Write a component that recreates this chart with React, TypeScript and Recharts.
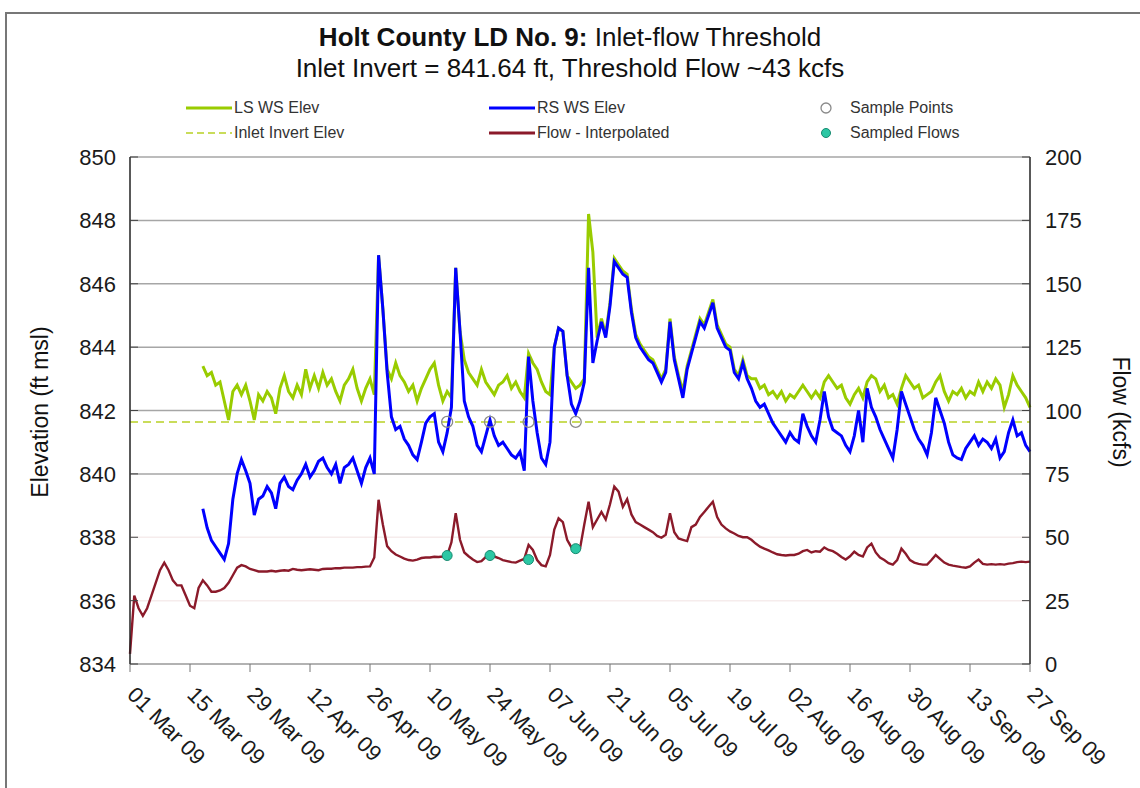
import { ComposedChart, Line, Scatter, XAxis, YAxis, ReferenceLine } from 'recharts';

const FONT = "'Liberation Sans', Arial, sans-serif";

// days counted from 01 Mar 2009
const TICK_DAYS = [0, 14, 28, 42, 56, 70, 84, 98, 112, 126, 140, 154, 168, 182, 196, 210];
const TICK_LABELS = [
  '01 Mar 09', '15 Mar 09', '29 Mar 09', '12 Apr 09', '26 Apr 09', '10 May 09', '24 May 09', '07 Jun 09',
  '21 Jun 09', '05 Jul 09', '19 Jul 09', '02 Aug 09', '16 Aug 09', '30 Aug 09', '13 Sep 09', '27 Sep 09',
];
const ELEV_TICKS = [834, 836, 838, 840, 842, 844, 846, 848, 850];
const FLOW_TICKS = [0, 25, 50, 75, 100, 125, 150, 175, 200];
const INVERT_ELEV = 841.64;

// daily flow, kcfs (day 0..210)
const FLOW = [
  4, 27, 22, 19, 22, 27, 32, 37, 40, 37,
  33, 31, 31, 27, 23, 22, 30, 33, 31, 28.5,
  28.5, 29, 30, 32, 35, 38, 39, 38.5, 37.5, 37,
  36.5, 36.5, 36.5, 36.8, 36.5, 36.8, 37, 36.8, 37.5, 37.2,
  37, 37.2, 37.4, 37.2, 37, 37.5, 37.6, 37.6, 37.8, 37.8,
  38, 38, 38, 38.2, 38.2, 38.4, 38.5, 42, 64.8, 55,
  46.5, 44.5, 43.2, 42.4, 41.6, 41, 40.8, 41.2, 41.8, 42,
  42, 42.3, 42.2, 42.4, 42.8, 48, 59.5, 49, 44, 42.5,
  41.2, 40.2, 40.6, 42.2, 42.8, 42.4, 41.8, 41, 40.6, 40.2,
  40, 40.8, 41.5, 47, 45, 41, 39, 38.5, 43, 53,
  57.5, 56, 49, 46, 45.5, 45.5, 55, 64, 54, 57,
  60, 57, 63, 70, 68, 62, 65, 59, 56, 55,
  54, 53, 52, 50.5, 49.8, 51, 59.5, 52, 49.5, 49,
  48.5, 54, 55, 58, 60, 62, 64, 58, 55, 53.5,
  52.3, 51.5, 50.5, 50, 50, 49, 47.5, 46.3, 45.5, 44.8,
  44, 43.3, 43, 42.8, 43, 43, 43.5, 44.5, 45, 44,
  44.5, 44.3, 46, 45, 44.5, 43.5, 42.2, 41.2, 42.5, 44.3,
  43, 42.4, 46, 47.5, 44, 42, 41, 39.8, 39.2, 41,
  45.5, 43.5, 41, 40, 39.5, 39.2, 39.2, 41, 43, 41.5,
  40, 39.2, 38.8, 38.5, 38.2, 38, 38.5, 40, 41.2, 39.5,
  39.2, 39.4, 39.2, 39.4, 39.2, 39.6, 39.8, 40.2, 40.4, 40.2, 40.4,
];

// water surface elevations, ft msl, from day 17 to day 210
const STAGE_START = 17;
const RS_ELEV = [
  838.9, 838.3, 837.9,
  837.7, 837.5, 837.3, 837.8, 839.2, 840.0, 840.45, 840.1, 839.7, 838.7,
  839.2, 839.3, 839.6, 839.4, 838.9, 839.7, 839.9, 839.6, 839.5, 839.8,
  840.0, 840.3, 839.9, 840.1, 840.4, 840.5, 840.2, 840.0, 840.3, 839.7,
  840.2, 840.3, 840.5, 840.1, 839.7, 840.2, 840.5, 840.0, 846.9, 845.2,
  843.2, 841.8, 841.4, 841.5, 841.1, 840.9, 840.6, 840.45, 841.0, 841.6,
  841.8, 841.9, 841.0, 840.7, 841.3, 842.1, 846.5, 844.5, 842.3, 841.8,
  841.5, 840.9, 840.7, 841.2, 841.7, 841.2, 840.9, 841.0, 840.8, 840.6,
  840.5, 840.7, 840.1, 843.7, 842.3, 841.3, 840.5, 840.3, 841.0, 844.0,
  844.6, 844.5, 843.1, 842.2, 841.9, 842.3, 842.9, 846.5, 843.5, 844.2,
  844.8, 844.3, 845.3, 846.7, 846.5, 846.3, 846.2, 845.1, 844.3, 844.0,
  843.8, 843.6, 843.5, 843.2, 842.9, 843.2, 844.8, 843.6, 843.0, 842.4,
  843.3, 843.8, 844.3, 844.8, 844.6, 845.0, 845.4, 844.6, 844.3, 844.0,
  843.9, 843.2, 843.0, 843.5, 843.0, 842.7, 842.3, 842.1, 842.2, 841.9,
  841.6, 841.4, 841.2, 841.0, 841.3, 841.1, 841.0, 841.9, 841.5, 841.2,
  841.0, 841.7, 842.6, 841.8, 841.4, 841.3, 841.2, 840.9, 840.7, 841.2,
  842.0, 841.0, 842.7, 842.1, 841.8, 841.4, 841.1, 840.8, 840.5, 841.4,
  842.6, 842.2, 841.8, 841.4, 841.1, 840.9, 840.6, 841.3, 842.4, 842.0,
  841.6, 841.0, 840.6, 840.5, 840.45, 840.8, 841.0, 841.2, 840.9, 841.1,
  841.0, 840.8, 841.1, 840.5, 840.7, 841.3, 841.7, 841.2, 841.3, 840.9, 840.7,
];
const LS_ELEV = [
  843.4, 843.1, 843.2,
  842.8, 842.9, 842.3, 841.7, 842.6, 842.8, 842.5, 842.8, 842.3, 841.7,
  842.5, 842.3, 842.6, 842.4, 841.9, 842.7, 843.1, 842.6, 842.4, 842.8,
  842.5, 843.3, 842.7, 843.1, 842.7, 843.2, 842.8, 843.0, 842.6, 842.3,
  842.8, 843.0, 843.3, 842.7, 842.3, 842.7, 843.0, 842.5, 846.9, 845.2,
  843.3, 843.0, 843.5, 843.1, 842.9, 842.6, 842.8, 842.3, 842.7, 843.0,
  843.3, 843.5, 842.8, 842.3, 842.6, 842.4, 846.5, 844.5, 843.6, 843.2,
  843.0, 842.8, 843.3, 842.9, 842.7, 842.5, 842.8, 842.9, 843.1, 842.7,
  842.9, 842.6, 842.4, 843.8, 843.5, 843.3, 842.9, 842.6, 842.5, 844.0,
  844.6, 844.5, 843.1, 842.9, 842.7, 842.8, 843.0, 848.2, 847.0, 844.3,
  844.9, 844.4, 845.4, 846.8, 846.6, 846.4, 846.3, 845.2, 844.4, 844.1,
  843.9, 843.7, 843.6, 843.3, 843.0, 843.3, 844.9, 843.7, 843.1, 842.6,
  843.4, 843.9, 844.4, 844.9, 844.7, 845.1, 845.5, 844.7, 844.4, 844.1,
  844.0, 843.3, 843.1, 843.6, 843.1, 843.0, 843.0, 842.7, 842.8, 842.5,
  842.6, 842.4, 842.6, 842.3, 842.5, 842.4, 842.6, 842.8, 842.6, 842.4,
  842.6, 842.4, 842.9, 843.1, 842.9, 842.7, 842.8, 842.4, 842.2, 842.5,
  842.7, 842.4, 842.9, 843.1, 843.0, 842.6, 842.8, 842.4, 842.5, 842.2,
  842.7, 843.1, 842.9, 842.7, 842.8, 842.4, 842.5, 842.6, 842.9, 843.1,
  842.6, 842.3, 842.6, 842.5, 842.7, 842.4, 842.6, 842.5, 842.9, 842.6,
  842.9, 842.7, 843.0, 842.8, 842.1, 842.5, 843.1, 842.8, 842.6, 842.4, 842.1,
];

const SAMPLE_DAYS = [74, 84, 93, 104];
const SAMPLED_FLOWS = [42.8, 42.8, 41.2, 45.5];

const data = FLOW.map((flow, day) => ({
  day,
  flow,
  rs: day >= STAGE_START ? RS_ELEV[day - STAGE_START] : null,
  ls: day >= STAGE_START ? LS_ELEV[day - STAGE_START] : null,
  invert: INVERT_ELEV,
}));
const samplePoints = SAMPLE_DAYS.map((day) => ({ day, elev: INVERT_ELEV }));
const sampledFlows = SAMPLE_DAYS.map((day, i) => ({ day, flow: SAMPLED_FLOWS[i] }));

const LS_COLOR = '#99cc00';
const RS_COLOR = '#0000ff';
const FLOW_COLOR = '#8b1a2a';
const INVERT_COLOR = '#c9dc5a';
const TEAL = '#2cc7a4';

const LeftTick = ({ x, y, payload }: any) => (
  <g>
    <line x1={x + 14} x2={x + 22} y1={y} y2={y} stroke="#444" />
    <text x={x} y={y} dy={8} textAnchor="end" fontSize={22} fontFamily={FONT} fill="#1a1a1a">
      {payload.value}
    </text>
  </g>
);

const RightTick = ({ x, y, payload }: any) => (
  <g>
    <line x1={x - 15} x2={x - 23} y1={y} y2={y} stroke="#444" />
    <text x={x} y={y} dy={8} textAnchor="start" fontSize={22} fontFamily={FONT} fill="#1a1a1a">
      {payload.value}
    </text>
  </g>
);

const DateTick = ({ x, y, payload }: any) => {
  const i = TICK_DAYS.indexOf(payload.value);
  const ax = x - 4;
  const ay = y + 24;
  return (
    <text x={ax} y={ay} transform={`rotate(45 ${ax} ${ay})`} textAnchor="start" fontSize={22} fontFamily={FONT} fill="#1a1a1a">
      {TICK_LABELS[i]}
    </text>
  );
};

const OpenCircle = ({ cx, cy }: any) => <circle cx={cx} cy={cy} r={5.5} fill="none" stroke="#8a8a8a" strokeWidth={1.3} />;
const TealDot = ({ cx, cy }: any) => <circle cx={cx} cy={cy} r={5} fill={TEAL} stroke="#168a70" strokeWidth={1} />;

const legendText = { fontSize: 16, fontFamily: FONT, color: '#333', whiteSpace: 'nowrap' as const };

function LegendRow({ left, top, swatch, label }: { left: number; top: number; swatch: any; label: string }) {
  return (
    <div style={{ position: 'absolute', left, top, display: 'flex', alignItems: 'center', height: 20 }}>
      <svg width={50} height={20} style={{ display: 'block' }}>{swatch}</svg>
      <span style={legendText}>{label}</span>
    </div>
  );
}

export default function App() {
  return (
    <div style={{ position: 'absolute', left: 0, top: 0, width: 1140, height: 788, background: '#fff', overflow: 'hidden' }}>
      <div style={{ position: 'absolute', left: 5, top: 12, width: 1200, height: 900, border: '2px solid #777' }} />
      <div style={{ position: 'absolute', left: 0, top: 22, width: 1140, textAlign: 'center', fontFamily: FONT, fontSize: 26, color: '#111', lineHeight: '31px' }}>
        <div><b>Holt County LD No. 9:</b> Inlet-flow Threshold</div>
        <div>Inlet Invert = 841.64 ft, Threshold Flow ~43 kcfs</div>
      </div>

      <LegendRow left={184} top={98} label="LS WS Elev" swatch={<line x1={2} x2={48} y1={10} y2={10} stroke={LS_COLOR} strokeWidth={3} />} />
      <LegendRow left={184} top={123} label="Inlet Invert Elev" swatch={<line x1={2} x2={48} y1={10} y2={10} stroke={INVERT_COLOR} strokeWidth={2} strokeDasharray="7 4" />} />
      <LegendRow left={487} top={98} label="RS WS Elev" swatch={<line x1={2} x2={48} y1={10} y2={10} stroke={RS_COLOR} strokeWidth={3} />} />
      <LegendRow left={487} top={123} label="Flow - Interpolated" swatch={<line x1={2} x2={48} y1={10} y2={10} stroke={FLOW_COLOR} strokeWidth={3} />} />
      <LegendRow left={800} top={98} label="Sample Points" swatch={<circle cx={26} cy={10} r={5} fill="none" stroke="#8a8a8a" strokeWidth={1.3} />} />
      <LegendRow left={800} top={123} label="Sampled Flows" swatch={<circle cx={26} cy={10} r={4.5} fill={TEAL} stroke="#168a70" />} />

      <div style={{ position: 'absolute', left: 40, top: 412, transform: 'translate(-50%, -50%) rotate(-90deg)', fontFamily: FONT, fontSize: 23, color: '#111', whiteSpace: 'nowrap' }}>
        Elevation (ft msl)
      </div>
      <div style={{ position: 'absolute', left: 1120, top: 412, transform: 'translate(-50%, -50%) rotate(90deg)', fontFamily: FONT, fontSize: 23, color: '#111', whiteSpace: 'nowrap' }}>
        Flow (kcfs)
      </div>

      <div style={{ position: 'absolute', left: 0, top: 0 }}>
        <ComposedChart width={1140} height={788} data={data} margin={{ top: 157, right: 50, bottom: 24, left: 70 }}>
          <XAxis
            dataKey="day"
            type="number"
            domain={[0, 210]}
            ticks={TICK_DAYS}
            interval={0}
            height={100}
            tick={<DateTick />}
            tickSize={8}
            tickMargin={0}
            tickLine={{ stroke: '#777' }}
            axisLine={{ stroke: '#999', strokeWidth: 1.5 }}
          />
          <YAxis
            yAxisId="left"
            orientation="left"
            domain={[834, 850]}
            ticks={ELEV_TICKS}
            interval={0}
            width={60}
            tickSize={0}
            tickMargin={14}
            tick={<LeftTick />}
            axisLine={{ stroke: '#222', strokeWidth: 1.5 }}
            allowDataOverflow
          />
          <YAxis
            yAxisId="right"
            orientation="right"
            domain={[0, 200]}
            ticks={FLOW_TICKS}
            interval={0}
            width={60}
            tickSize={0}
            tickMargin={15}
            tick={<RightTick />}
            axisLine={{ stroke: '#222', strokeWidth: 1.5 }}
          />
          {ELEV_TICKS.filter((v) => v > 834).map((v) => (
            <ReferenceLine key={v} yAxisId="left" y={v} stroke={v >= 840 ? '#a6a6a6' : '#f6ecec'} strokeWidth={1.5} />
          ))}
          <Line yAxisId="left" dataKey="invert" stroke={INVERT_COLOR} strokeWidth={2} strokeDasharray="8 5" dot={false} isAnimationActive={false} />
          <Line yAxisId="left" dataKey="ls" stroke={LS_COLOR} strokeWidth={3} strokeLinejoin="miter" dot={false} isAnimationActive={false} />
          <Line yAxisId="left" dataKey="rs" stroke={RS_COLOR} strokeWidth={3} strokeLinejoin="miter" dot={false} isAnimationActive={false} />
          <Line yAxisId="right" dataKey="flow" stroke={FLOW_COLOR} strokeWidth={2.4} dot={false} isAnimationActive={false} />
          <Scatter yAxisId="left" data={samplePoints} dataKey="elev" shape={<OpenCircle />} isAnimationActive={false} />
          <Scatter yAxisId="right" data={sampledFlows} dataKey="flow" shape={<TealDot />} isAnimationActive={false} />
        </ComposedChart>
      </div>
    </div>
  );
}
